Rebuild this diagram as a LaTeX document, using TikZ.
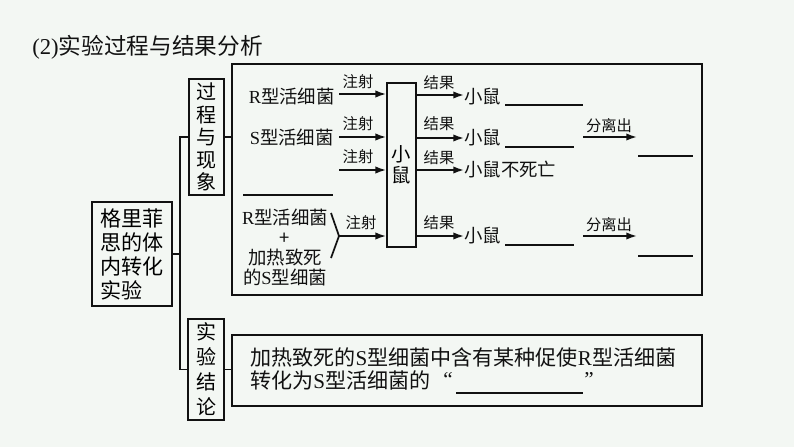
\documentclass[tikz,border=0pt]{standalone}
\usepackage{fontspec}
\setmainfont{Noto Sans CJK SC}
\newfontfamily\latinf{Liberation Serif}
\usetikzlibrary{arrows.meta}
\newcommand\lt[1]{{\latinf #1}}
\newcommand\fsz[2]{\fontsize{#1}{#2}\selectfont}
\definecolor{bgc}{HTML}{F3F7F3}
\definecolor{ink}{HTML}{111111}
\tikzset{
  boxn/.style={draw=ink, line width=1.3pt, inner sep=0pt, align=center},
  lbl/.style={inner sep=0pt, text=ink, font=\fsz{11.5pt}{13pt}},
  txt/.style={inner sep=0pt, text=ink, font=\fsz{13.8pt}{15pt}},
  big/.style={inner sep=0pt, text=ink, font=\fsz{15.8pt}{18pt}},
  ln/.style={draw=ink, line width=1.3pt},
  arr/.style={draw=ink, line width=1.3pt, -{Latex[length=8pt,width=5.5pt]}},
  blank/.style={draw=ink, line width=1.3pt}
}
\begin{document}
\begin{tikzpicture}[x=0.75pt,y=-0.75pt]
\fill[bgc] (0,0) rectangle (794,447);
\useasboundingbox (0,0) rectangle (794,447);

% title
\node[anchor=west, inner sep=0pt, text=ink, font=\fsz{17pt}{20pt}] (title) at (32,47) {\lt{(2)}实验过程与结果分析};

% left main box
\node[boxn, minimum width=80*0.75pt, minimum height=104*0.75pt, align=left, font=\fsz{15.8pt}{18pt}] (left) at (132,254) {格里菲\\思的体\\内转化\\实验\phantom{验}};

% category boxes
\node[boxn, minimum width=35*0.75pt, minimum height=116*0.75pt, font=\fsz{15pt}{16.8pt}] (gc) at (206.5,137) {过\\程\\与\\现\\象};
\node[boxn, minimum width=36*0.75pt, minimum height=101*0.75pt, font=\fsz{15pt}{18.75pt}] (jl) at (206,369.5) {实\\验\\结\\论};

% big boxes
\node[boxn, minimum width=470*0.75pt, minimum height=231*0.75pt] (proc) at (467,179.5) {};
\node[boxn, minimum width=470*0.75pt, minimum height=71*0.75pt] (conc) at (467,370.5) {};

% tree connectors
\coordinate (trunk) at (180,254);
\draw[ln] (left.east) -- (trunk);
\draw[ln] (gc.west) -| (trunk);
\draw[ln] (jl.west) -| (trunk);
\draw[ln] (gc.east) -- (gc.east -| proc.west);
\draw[ln] (jl.east) -- (jl.east -| conc.west);

% mouse box
\node[boxn, minimum width=29*0.75pt, minimum height=164*0.75pt, font=\fsz{14.5pt}{15.5pt}] (mouse) at (401.5,165) {小\\鼠};

% left inputs
\node[txt, anchor=east] (r1) at (335,96) {\lt{R}型活细菌};
\node[txt, anchor=east] (s1) at (334,137) {\lt{S}型活细菌};
\draw[blank] (243,195) -- (333,195);
\node[txt, align=center] (grp) at (285,247) {\lt{R}型活细菌\\+\\加热致死\\的\lt{S}型细菌};

\coordinate (a1) at (339,94);
\coordinate (a2) at (339,137);
\coordinate (a3) at (339,170);
\coordinate (a4) at (339,236);
\coordinate (b1) at (331,213);
\coordinate (b2) at (331,258);
\draw[ln, line join=miter] (b1) -- (a4) -- (b2);

\draw[arr] (a1) -- (a1 -| mouse.west);
\draw[arr] (a2) -- (a2 -| mouse.west);
\draw[arr] (a3) -- (a3 -| mouse.west);
\draw[arr] (a4) -- (a4 -| mouse.west);
\node[lbl] (z1) at (358,82) {注射};
\node[lbl] (z2) at (358,124) {注射};
\node[lbl] (z3) at (358,157) {注射};
\node[lbl] (z4) at (361,223) {注射};

% results
\node[txt, anchor=west] (m1) at (464,97) {小鼠};
\node[txt, anchor=west] (m2) at (464,138) {小鼠};
\node[txt, anchor=west] (m3) at (464,170) {小鼠不死亡};
\node[txt, anchor=west] (m4) at (464,236) {小鼠};
\draw[arr] (mouse.east |- 0,95) -- (m1.west |- 0,95);
\draw[arr] (mouse.east |- 0,138) -- (m2.west);
\draw[arr] (mouse.east |- 0,170) -- (m3.west);
\draw[arr] (mouse.east |- 0,236) -- (m4.west);
\node[lbl] (j1) at (439,83) {结果};
\node[lbl] (j2) at (439,124) {结果};
\node[lbl] (j3) at (439,158) {结果};
\node[lbl] (j4) at (439,223) {结果};

\draw[blank] (505,105) -- (583,105);
\draw[blank] (505,147) -- (574,147);
\draw[blank] (505,245) -- (574,245);

\coordinate (f1s) at (583,137);
\coordinate (f1e) at (637,137);
\coordinate (f2s) at (583,236);
\coordinate (f2e) at (637,236);
\draw[arr] (f1s) -- (f1e);
\draw[arr] (f2s) -- (f2e);
\node[lbl] (d1) at (609,126) {分离出};
\node[lbl] (d2) at (609,225) {分离出};
\draw[blank] (638,156) -- (693,156);
\draw[blank] (638,256) -- (693,256);

% conclusion
\node[big, anchor=west] (c1) at (250,357) {加热致死的\lt{S}型细菌中含有某种促使\lt{R}型活细菌};
\node[big, anchor=west] (c2) at (250,380) {转化为\lt{S}型活细菌的};
\node[big] (q1) at (448,379) {\lt{“}};
\node[big] (q2) at (589,379) {\lt{”}};
\draw[blank] (456,393) -- (583,393);
\end{tikzpicture}
\end{document}
